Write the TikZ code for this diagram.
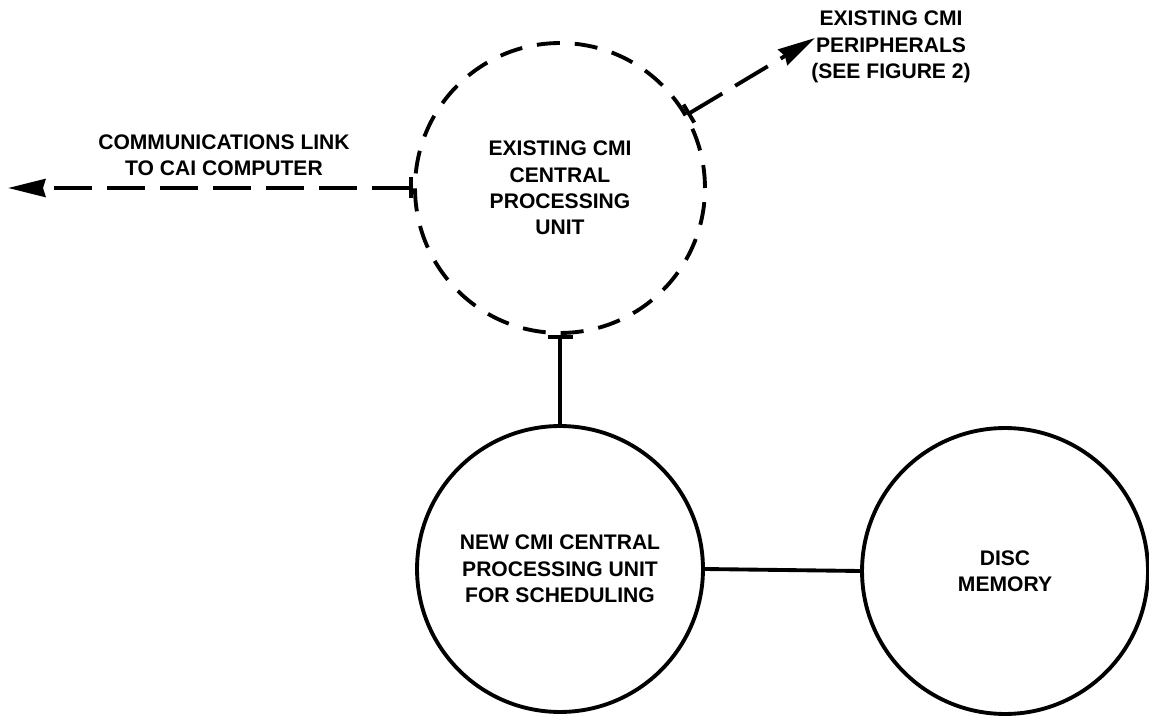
\documentclass[tikz,border=0pt]{standalone}
\usepackage{fontspec}
\setmainfont{Liberation Sans}
\usetikzlibrary{arrows.meta}
\pgfkeys{tikz/notetext/.style={align=center, inner sep=0pt,
                                  font=\bfseries\fontsize{12}{15}\selectfont}}
\pgfkeys{tikz/unitcircle/.style={notetext, circle, draw, line width=2.2pt,
                                    minimum size=5.72cm}}
\pgfkeys{tikz/oldunitcircle/.style={unitcircle, minimum size=5.8cm,
                                       dash pattern=on 0.46cm off 0.3cm}}
\pgfkeys{tikz/dashlink/.style={line width=2.2pt,
                                  dash pattern=on 0.76cm off 0.3cm,
                                  {Bar[width=0.42cm]}-{Stealth[length=0.75cm, width=0.36cm, inset=0.05cm]}}}

\begin{document}
\begin{tikzpicture}[x=0.02cm, y=-0.02cm]
                \useasboundingbox (0,0) rectangle (1149,719);

                \node[oldunitcircle] (oldcpu) at (560,188) {EXISTING CMI\\CENTRAL\\PROCESSING\\UNIT};
                \node[unitcircle] (newcpu) at (560,569) {NEW CMI CENTRAL\\PROCESSING UNIT\\FOR SCHEDULING};
                \node[unitcircle] (disc) at (1005,571) {DISC\\MEMORY};

                \coordinate (cai) at (8,188);
                \coordinate (periph) at (815,38);
                \node[notetext] (caitext) at (224,155) {COMMUNICATIONS LINK\\TO CAI COMPUTER};
                \node[notetext] (periphtext) at (891,47) {EXISTING CMI\\PERIPHERALS\\(SEE FIGURE 2)};

                \draw[dashlink] (oldcpu.west) -- (cai);
                \draw[dashlink] (oldcpu.30) -- (periph);
                \draw[line width=2.2pt, {Bar[width=0.5cm]}-] (oldcpu.south) -- (newcpu.north);
                \draw[line width=2.2pt] (newcpu.east) -- (disc.west);

            \end{tikzpicture}
\end{document}
